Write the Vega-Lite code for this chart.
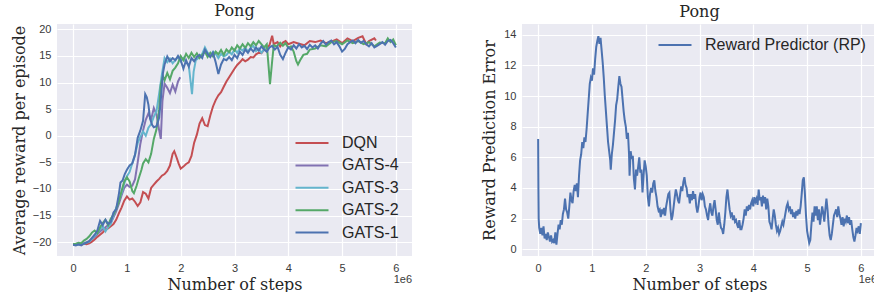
{
  "$schema": "https://vega.github.io/schema/vega-lite/v6.json",
  "padding": {"left": 11, "top": 3, "right": 0, "bottom": 0},
  "background": "white",
  "config": {
    "view": {"fill": "#EAEAF2", "stroke": null},
    "axis": {"domain": false, "ticks": false, "gridColor": "#FFFFFF", "gridWidth": 1.2, "labelFont": "Liberation Sans", "labelFontSize": 11, "labelColor": "#3a3a3a", "titleFont": "DejaVu Serif", "titleFontSize": 16, "titleFontWeight": "normal", "titleColor": "#262626", "labelPadding": 6, "labelOverlap": false},
    "title": {"font": "DejaVu Serif", "fontSize": 16, "fontWeight": "normal", "color": "#262626", "offset": 4},
    "legend": {"labelFont": "Liberation Sans", "labelFontSize": 16, "labelColor": "#262626", "symbolType": "M-1.65,0H1.65", "symbolStrokeWidth": 2, "symbolSize": 400, "padding": 0, "labelOffset": 19, "labelLimit": 400, "rowPadding": 3.4}
  },
  "spacing": 69,
  "resolve": {"scale": {"x": "independent", "y": "independent", "color": "independent"}, "legend": {"color": "independent"}},
  "datasets": {
    "left": [
      {"series":"DQN","step":0,"value":-20.4},{"series":"DQN","step":0.05,"value":-20.5},{"series":"DQN","step":0.1,"value":-20.4},{"series":"DQN","step":0.15,"value":-20.5},{"series":"DQN","step":0.2,"value":-20.3},{"series":"DQN","step":0.25,"value":-20.4},{"series":"DQN","step":0.3,"value":-20.2},{"series":"DQN","step":0.35,"value":-19.9},{"series":"DQN","step":0.4,"value":-19.5},{"series":"DQN","step":0.45,"value":-19.0},{"series":"DQN","step":0.5,"value":-18.6},{"series":"DQN","step":0.55,"value":-18.2},{"series":"DQN","step":0.6,"value":-17.6},{"series":"DQN","step":0.65,"value":-17.4},{"series":"DQN","step":0.7,"value":-17.0},{"series":"DQN","step":0.75,"value":-16.6},{"series":"DQN","step":0.8,"value":-15.8},{"series":"DQN","step":0.85,"value":-14.6},{"series":"DQN","step":0.9,"value":-13.5},{"series":"DQN","step":0.95,"value":-12.2},{"series":"DQN","step":1.0,"value":-11.4},{"series":"DQN","step":1.05,"value":-12.0},{"series":"DQN","step":1.1,"value":-11.8},{"series":"DQN","step":1.15,"value":-12.4},{"series":"DQN","step":1.2,"value":-13.2},{"series":"DQN","step":1.25,"value":-12.5},{"series":"DQN","step":1.3,"value":-10.6},{"series":"DQN","step":1.35,"value":-10.9},{"series":"DQN","step":1.4,"value":-11.8},{"series":"DQN","step":1.45,"value":-9.8},{"series":"DQN","step":1.5,"value":-9.2},{"series":"DQN","step":1.55,"value":-8.6},{"series":"DQN","step":1.6,"value":-8.1},{"series":"DQN","step":1.65,"value":-7.5},{"series":"DQN","step":1.7,"value":-7.2},{"series":"DQN","step":1.75,"value":-6.6},{"series":"DQN","step":1.8,"value":-5.6},{"series":"DQN","step":1.85,"value":-3.4},{"series":"DQN","step":1.88,"value":-2.9},{"series":"DQN","step":1.92,"value":-4.0},{"series":"DQN","step":1.96,"value":-5.2},{"series":"DQN","step":2.0,"value":-6.2},{"series":"DQN","step":2.05,"value":-5.8},{"series":"DQN","step":2.1,"value":-5.3},{"series":"DQN","step":2.15,"value":-5.0},{"series":"DQN","step":2.2,"value":-3.8},{"series":"DQN","step":2.25,"value":-1.3},{"series":"DQN","step":2.3,"value":0.2},{"series":"DQN","step":2.35,"value":2.3},{"series":"DQN","step":2.4,"value":3.3},{"series":"DQN","step":2.45,"value":2.0},{"series":"DQN","step":2.5,"value":1.8},{"series":"DQN","step":2.55,"value":3.8},{"series":"DQN","step":2.6,"value":5.5},{"series":"DQN","step":2.65,"value":6.7},{"series":"DQN","step":2.7,"value":7.6},{"series":"DQN","step":2.75,"value":8.2},{"series":"DQN","step":2.8,"value":9.2},{"series":"DQN","step":2.85,"value":10.2},{"series":"DQN","step":2.9,"value":11.0},{"series":"DQN","step":2.95,"value":11.8},{"series":"DQN","step":3.0,"value":12.6},{"series":"DQN","step":3.05,"value":13.3},{"series":"DQN","step":3.1,"value":13.8},{"series":"DQN","step":3.15,"value":14.4},{"series":"DQN","step":3.2,"value":14.0},{"series":"DQN","step":3.25,"value":14.3},{"series":"DQN","step":3.3,"value":14.8},{"series":"DQN","step":3.35,"value":14.7},{"series":"DQN","step":3.4,"value":15.3},{"series":"DQN","step":3.45,"value":15.6},{"series":"DQN","step":3.5,"value":15.5},{"series":"DQN","step":3.55,"value":16.2},{"series":"DQN","step":3.6,"value":16.5},{"series":"DQN","step":3.65,"value":17.0},{"series":"DQN","step":3.7,"value":18.8},{"series":"DQN","step":3.73,"value":17.2},{"series":"DQN","step":3.8,"value":17.6},{"series":"DQN","step":3.85,"value":16.8},{"series":"DQN","step":3.9,"value":17.5},{"series":"DQN","step":3.95,"value":17.8},{"series":"DQN","step":4.0,"value":17.2},{"series":"DQN","step":4.1,"value":17.6},{"series":"DQN","step":4.2,"value":17.3},{"series":"DQN","step":4.3,"value":17.0},{"series":"DQN","step":4.4,"value":17.8},{"series":"DQN","step":4.5,"value":17.6},{"series":"DQN","step":4.6,"value":17.9},{"series":"DQN","step":4.7,"value":17.4},{"series":"DQN","step":4.8,"value":17.7},{"series":"DQN","step":4.9,"value":18.1},{"series":"DQN","step":5.0,"value":17.4},{"series":"DQN","step":5.1,"value":18.3},{"series":"DQN","step":5.2,"value":17.8},{"series":"DQN","step":5.3,"value":18.4},{"series":"DQN","step":5.38,"value":18.7},{"series":"DQN","step":5.45,"value":17.2},{"series":"DQN","step":5.5,"value":17.8},{"series":"DQN","step":5.6,"value":18.3},{"series":"DQN","step":5.63,"value":17.9},
      {"series":"GATS-4","step":0,"value":-20.5},{"series":"GATS-4","step":0.1,"value":-20.4},{"series":"GATS-4","step":0.2,"value":-20.2},{"series":"GATS-4","step":0.3,"value":-19.8},{"series":"GATS-4","step":0.4,"value":-19.0},{"series":"GATS-4","step":0.5,"value":-18.0},{"series":"GATS-4","step":0.6,"value":-17.2},{"series":"GATS-4","step":0.7,"value":-16.4},{"series":"GATS-4","step":0.8,"value":-14.2},{"series":"GATS-4","step":0.85,"value":-12.8},{"series":"GATS-4","step":0.9,"value":-11.2},{"series":"GATS-4","step":0.95,"value":-9.8},{"series":"GATS-4","step":1.0,"value":-9.2},{"series":"GATS-4","step":1.05,"value":-9.6},{"series":"GATS-4","step":1.1,"value":-9.4},{"series":"GATS-4","step":1.15,"value":-8.2},{"series":"GATS-4","step":1.2,"value":-5.0},{"series":"GATS-4","step":1.25,"value":-1.5},{"series":"GATS-4","step":1.3,"value":1.0},{"series":"GATS-4","step":1.35,"value":3.0},{"series":"GATS-4","step":1.4,"value":4.2},{"series":"GATS-4","step":1.45,"value":3.0},{"series":"GATS-4","step":1.5,"value":5.2},{"series":"GATS-4","step":1.55,"value":4.0},{"series":"GATS-4","step":1.6,"value":1.0},{"series":"GATS-4","step":1.63,"value":-0.6},{"series":"GATS-4","step":1.66,"value":6.5},{"series":"GATS-4","step":1.7,"value":9.8},{"series":"GATS-4","step":1.75,"value":9.0},{"series":"GATS-4","step":1.8,"value":8.0},{"series":"GATS-4","step":1.85,"value":9.6},{"series":"GATS-4","step":1.9,"value":8.3},{"series":"GATS-4","step":1.95,"value":10.2},{"series":"GATS-4","step":1.99,"value":11.0},
      {"series":"GATS-3","step":0,"value":-20.5},{"series":"GATS-3","step":0.1,"value":-20.5},{"series":"GATS-3","step":0.2,"value":-20.3},{"series":"GATS-3","step":0.3,"value":-19.9},{"series":"GATS-3","step":0.4,"value":-18.8},{"series":"GATS-3","step":0.5,"value":-17.6},{"series":"GATS-3","step":0.55,"value":-17.0},{"series":"GATS-3","step":0.6,"value":-18.0},{"series":"GATS-3","step":0.65,"value":-17.2},{"series":"GATS-3","step":0.7,"value":-16.6},{"series":"GATS-3","step":0.75,"value":-15.0},{"series":"GATS-3","step":0.8,"value":-13.6},{"series":"GATS-3","step":0.85,"value":-12.2},{"series":"GATS-3","step":0.9,"value":-10.8},{"series":"GATS-3","step":0.95,"value":-9.0},{"series":"GATS-3","step":1.0,"value":-7.6},{"series":"GATS-3","step":1.05,"value":-6.8},{"series":"GATS-3","step":1.1,"value":-5.2},{"series":"GATS-3","step":1.15,"value":-3.6},{"series":"GATS-3","step":1.2,"value":-1.4},{"series":"GATS-3","step":1.25,"value":-0.2},{"series":"GATS-3","step":1.3,"value":0.8},{"series":"GATS-3","step":1.35,"value":0.0},{"series":"GATS-3","step":1.4,"value":1.5},{"series":"GATS-3","step":1.45,"value":2.2},{"series":"GATS-3","step":1.5,"value":3.6},{"series":"GATS-3","step":1.55,"value":4.6},{"series":"GATS-3","step":1.6,"value":8.0},{"series":"GATS-3","step":1.65,"value":11.5},{"series":"GATS-3","step":1.7,"value":14.6},{"series":"GATS-3","step":1.75,"value":13.8},{"series":"GATS-3","step":1.8,"value":14.5},{"series":"GATS-3","step":1.85,"value":13.6},{"series":"GATS-3","step":1.9,"value":14.2},{"series":"GATS-3","step":1.95,"value":14.8},{"series":"GATS-3","step":2.0,"value":14.0},{"series":"GATS-3","step":2.05,"value":14.6},{"series":"GATS-3","step":2.1,"value":13.8},{"series":"GATS-3","step":2.15,"value":13.2},{"series":"GATS-3","step":2.18,"value":10.5},{"series":"GATS-3","step":2.21,"value":7.8},{"series":"GATS-3","step":2.24,"value":12.0},{"series":"GATS-3","step":2.28,"value":14.2},{"series":"GATS-3","step":2.35,"value":14.8},{"series":"GATS-3","step":2.4,"value":15.4},{"series":"GATS-3","step":2.45,"value":16.6},{"series":"GATS-3","step":2.5,"value":15.6},{"series":"GATS-3","step":2.55,"value":15.0},{"series":"GATS-3","step":2.6,"value":15.8},{"series":"GATS-3","step":2.65,"value":15.4},{"series":"GATS-3","step":2.7,"value":14.6},{"series":"GATS-3","step":2.75,"value":15.4},{"series":"GATS-3","step":2.8,"value":14.9},{"series":"GATS-3","step":2.85,"value":15.2},{"series":"GATS-3","step":2.9,"value":15.8},{"series":"GATS-3","step":2.95,"value":15.3},{"series":"GATS-3","step":3.0,"value":16.2},{"series":"GATS-3","step":3.05,"value":15.6},{"series":"GATS-3","step":3.1,"value":16.4},{"series":"GATS-3","step":3.15,"value":16.0},{"series":"GATS-3","step":3.2,"value":16.6},{"series":"GATS-3","step":3.25,"value":15.8},{"series":"GATS-3","step":3.3,"value":16.5},{"series":"GATS-3","step":3.35,"value":16.9},{"series":"GATS-3","step":3.4,"value":15.9},{"series":"GATS-3","step":3.45,"value":16.4},{"series":"GATS-3","step":3.5,"value":15.6},{"series":"GATS-3","step":3.55,"value":16.2},{"series":"GATS-3","step":3.6,"value":16.6},
      {"series":"GATS-2","step":0,"value":-20.4},{"series":"GATS-2","step":0.05,"value":-20.3},{"series":"GATS-2","step":0.1,"value":-20.1},{"series":"GATS-2","step":0.15,"value":-20.2},{"series":"GATS-2","step":0.2,"value":-19.7},{"series":"GATS-2","step":0.25,"value":-19.4},{"series":"GATS-2","step":0.3,"value":-18.9},{"series":"GATS-2","step":0.35,"value":-18.2},{"series":"GATS-2","step":0.4,"value":-17.8},{"series":"GATS-2","step":0.45,"value":-18.3},{"series":"GATS-2","step":0.5,"value":-17.2},{"series":"GATS-2","step":0.55,"value":-16.4},{"series":"GATS-2","step":0.6,"value":-15.8},{"series":"GATS-2","step":0.65,"value":-16.8},{"series":"GATS-2","step":0.7,"value":-15.6},{"series":"GATS-2","step":0.75,"value":-14.8},{"series":"GATS-2","step":0.8,"value":-13.8},{"series":"GATS-2","step":0.85,"value":-12.4},{"series":"GATS-2","step":0.9,"value":-10.4},{"series":"GATS-2","step":0.95,"value":-8.6},{"series":"GATS-2","step":1.0,"value":-7.8},{"series":"GATS-2","step":1.05,"value":-8.6},{"series":"GATS-2","step":1.1,"value":-10.4},{"series":"GATS-2","step":1.13,"value":-10.8},{"series":"GATS-2","step":1.18,"value":-9.4},{"series":"GATS-2","step":1.22,"value":-8.0},{"series":"GATS-2","step":1.27,"value":-6.4},{"series":"GATS-2","step":1.3,"value":-5.2},{"series":"GATS-2","step":1.35,"value":-4.4},{"series":"GATS-2","step":1.4,"value":-5.0},{"series":"GATS-2","step":1.45,"value":-3.4},{"series":"GATS-2","step":1.5,"value":-0.6},{"series":"GATS-2","step":1.55,"value":1.2},{"series":"GATS-2","step":1.6,"value":5.0},{"series":"GATS-2","step":1.63,"value":9.6},{"series":"GATS-2","step":1.67,"value":11.2},{"series":"GATS-2","step":1.7,"value":10.4},{"series":"GATS-2","step":1.75,"value":11.8},{"series":"GATS-2","step":1.8,"value":10.6},{"series":"GATS-2","step":1.85,"value":12.2},{"series":"GATS-2","step":1.9,"value":12.8},{"series":"GATS-2","step":1.95,"value":13.6},{"series":"GATS-2","step":2.0,"value":15.0},{"series":"GATS-2","step":2.05,"value":14.2},{"series":"GATS-2","step":2.1,"value":15.4},{"series":"GATS-2","step":2.15,"value":14.6},{"series":"GATS-2","step":2.2,"value":15.6},{"series":"GATS-2","step":2.25,"value":14.8},{"series":"GATS-2","step":2.3,"value":15.5},{"series":"GATS-2","step":2.35,"value":14.6},{"series":"GATS-2","step":2.4,"value":15.2},{"series":"GATS-2","step":2.45,"value":15.8},{"series":"GATS-2","step":2.5,"value":14.8},{"series":"GATS-2","step":2.55,"value":15.6},{"series":"GATS-2","step":2.6,"value":14.9},{"series":"GATS-2","step":2.65,"value":15.8},{"series":"GATS-2","step":2.7,"value":15.3},{"series":"GATS-2","step":2.75,"value":16.1},{"series":"GATS-2","step":2.8,"value":15.2},{"series":"GATS-2","step":2.85,"value":16.2},{"series":"GATS-2","step":2.9,"value":15.7},{"series":"GATS-2","step":2.95,"value":16.6},{"series":"GATS-2","step":3.0,"value":16.0},{"series":"GATS-2","step":3.05,"value":17.0},{"series":"GATS-2","step":3.1,"value":16.4},{"series":"GATS-2","step":3.15,"value":17.2},{"series":"GATS-2","step":3.2,"value":16.5},{"series":"GATS-2","step":3.25,"value":17.4},{"series":"GATS-2","step":3.3,"value":16.8},{"series":"GATS-2","step":3.35,"value":17.6},{"series":"GATS-2","step":3.4,"value":17.0},{"series":"GATS-2","step":3.45,"value":17.8},{"series":"GATS-2","step":3.5,"value":17.2},{"series":"GATS-2","step":3.55,"value":16.6},{"series":"GATS-2","step":3.6,"value":17.2},{"series":"GATS-2","step":3.63,"value":13.5},{"series":"GATS-2","step":3.66,"value":9.7},{"series":"GATS-2","step":3.7,"value":14.0},{"series":"GATS-2","step":3.73,"value":17.0},{"series":"GATS-2","step":3.78,"value":16.8},{"series":"GATS-2","step":3.85,"value":17.5},{"series":"GATS-2","step":3.9,"value":16.9},{"series":"GATS-2","step":3.95,"value":17.4},{"series":"GATS-2","step":4.0,"value":16.5},{"series":"GATS-2","step":4.05,"value":16.8},{"series":"GATS-2","step":4.1,"value":15.8},{"series":"GATS-2","step":4.15,"value":14.0},{"series":"GATS-2","step":4.18,"value":13.4},{"series":"GATS-2","step":4.22,"value":14.2},{"series":"GATS-2","step":4.28,"value":15.2},{"series":"GATS-2","step":4.35,"value":15.4},{"series":"GATS-2","step":4.4,"value":16.2},{"series":"GATS-2","step":4.5,"value":16.4},{"series":"GATS-2","step":4.6,"value":17.0},{"series":"GATS-2","step":4.7,"value":16.8},{"series":"GATS-2","step":4.8,"value":17.6},{"series":"GATS-2","step":4.9,"value":17.8},{"series":"GATS-2","step":5.0,"value":17.2},{"series":"GATS-2","step":5.1,"value":17.9},{"series":"GATS-2","step":5.2,"value":17.4},{"series":"GATS-2","step":5.3,"value":17.8},{"series":"GATS-2","step":5.4,"value":17.2},{"series":"GATS-2","step":5.5,"value":17.6},{"series":"GATS-2","step":5.6,"value":16.8},{"series":"GATS-2","step":5.7,"value":17.5},{"series":"GATS-2","step":5.8,"value":17.4},{"series":"GATS-2","step":5.85,"value":18.3},{"series":"GATS-2","step":5.9,"value":17.6},{"series":"GATS-2","step":5.95,"value":18.1},{"series":"GATS-2","step":6.0,"value":17.0},
      {"series":"GATS-1","step":0,"value":-20.5},{"series":"GATS-1","step":0.05,"value":-20.6},{"series":"GATS-1","step":0.1,"value":-20.4},{"series":"GATS-1","step":0.15,"value":-20.6},{"series":"GATS-1","step":0.2,"value":-20.3},{"series":"GATS-1","step":0.25,"value":-20.1},{"series":"GATS-1","step":0.3,"value":-19.8},{"series":"GATS-1","step":0.35,"value":-19.2},{"series":"GATS-1","step":0.4,"value":-18.6},{"series":"GATS-1","step":0.45,"value":-17.8},{"series":"GATS-1","step":0.5,"value":-16.0},{"series":"GATS-1","step":0.55,"value":-16.8},{"series":"GATS-1","step":0.6,"value":-15.8},{"series":"GATS-1","step":0.65,"value":-16.6},{"series":"GATS-1","step":0.7,"value":-16.2},{"series":"GATS-1","step":0.75,"value":-14.4},{"series":"GATS-1","step":0.8,"value":-13.8},{"series":"GATS-1","step":0.85,"value":-11.0},{"series":"GATS-1","step":0.88,"value":-8.8},{"series":"GATS-1","step":0.92,"value":-8.4},{"series":"GATS-1","step":0.96,"value":-7.2},{"series":"GATS-1","step":1.0,"value":-6.4},{"series":"GATS-1","step":1.05,"value":-5.6},{"series":"GATS-1","step":1.1,"value":-5.2},{"series":"GATS-1","step":1.15,"value":-3.6},{"series":"GATS-1","step":1.2,"value":-0.4},{"series":"GATS-1","step":1.25,"value":1.0},{"series":"GATS-1","step":1.3,"value":2.8},{"series":"GATS-1","step":1.34,"value":7.8},{"series":"GATS-1","step":1.37,"value":7.2},{"series":"GATS-1","step":1.4,"value":5.8},{"series":"GATS-1","step":1.43,"value":3.2},{"series":"GATS-1","step":1.47,"value":2.0},{"series":"GATS-1","step":1.5,"value":1.6},{"series":"GATS-1","step":1.55,"value":1.8},{"series":"GATS-1","step":1.6,"value":3.4},{"series":"GATS-1","step":1.63,"value":6.8},{"series":"GATS-1","step":1.67,"value":11.8},{"series":"GATS-1","step":1.7,"value":13.4},{"series":"GATS-1","step":1.75,"value":14.9},{"series":"GATS-1","step":1.8,"value":14.0},{"series":"GATS-1","step":1.85,"value":14.6},{"series":"GATS-1","step":1.9,"value":14.2},{"series":"GATS-1","step":1.95,"value":15.0},{"series":"GATS-1","step":2.0,"value":14.2},{"series":"GATS-1","step":2.05,"value":12.6},{"series":"GATS-1","step":2.1,"value":14.2},{"series":"GATS-1","step":2.15,"value":13.0},{"series":"GATS-1","step":2.2,"value":14.6},{"series":"GATS-1","step":2.25,"value":14.0},{"series":"GATS-1","step":2.3,"value":14.8},{"series":"GATS-1","step":2.35,"value":15.2},{"series":"GATS-1","step":2.4,"value":14.6},{"series":"GATS-1","step":2.45,"value":16.2},{"series":"GATS-1","step":2.5,"value":15.4},{"series":"GATS-1","step":2.55,"value":14.8},{"series":"GATS-1","step":2.6,"value":15.6},{"series":"GATS-1","step":2.65,"value":13.8},{"series":"GATS-1","step":2.7,"value":11.6},{"series":"GATS-1","step":2.75,"value":13.4},{"series":"GATS-1","step":2.8,"value":14.4},{"series":"GATS-1","step":2.85,"value":14.2},{"series":"GATS-1","step":2.9,"value":14.8},{"series":"GATS-1","step":2.95,"value":14.2},{"series":"GATS-1","step":3.0,"value":15.2},{"series":"GATS-1","step":3.05,"value":14.6},{"series":"GATS-1","step":3.1,"value":15.8},{"series":"GATS-1","step":3.15,"value":15.2},{"series":"GATS-1","step":3.2,"value":16.2},{"series":"GATS-1","step":3.25,"value":15.6},{"series":"GATS-1","step":3.3,"value":16.4},{"series":"GATS-1","step":3.35,"value":15.8},{"series":"GATS-1","step":3.4,"value":16.6},{"series":"GATS-1","step":3.45,"value":16.0},{"series":"GATS-1","step":3.5,"value":16.8},{"series":"GATS-1","step":3.55,"value":16.2},{"series":"GATS-1","step":3.6,"value":15.8},{"series":"GATS-1","step":3.65,"value":16.6},{"series":"GATS-1","step":3.7,"value":16.9},{"series":"GATS-1","step":3.75,"value":16.2},{"series":"GATS-1","step":3.8,"value":16.7},{"series":"GATS-1","step":3.85,"value":15.2},{"series":"GATS-1","step":3.9,"value":14.4},{"series":"GATS-1","step":3.95,"value":15.6},{"series":"GATS-1","step":4.0,"value":16.6},{"series":"GATS-1","step":4.05,"value":16.2},{"series":"GATS-1","step":4.1,"value":17.0},{"series":"GATS-1","step":4.15,"value":16.4},{"series":"GATS-1","step":4.2,"value":17.2},{"series":"GATS-1","step":4.25,"value":16.6},{"series":"GATS-1","step":4.3,"value":16.9},{"series":"GATS-1","step":4.35,"value":16.3},{"series":"GATS-1","step":4.4,"value":17.1},{"series":"GATS-1","step":4.45,"value":16.6},{"series":"GATS-1","step":4.5,"value":17.0},{"series":"GATS-1","step":4.55,"value":16.4},{"series":"GATS-1","step":4.6,"value":17.3},{"series":"GATS-1","step":4.65,"value":17.8},{"series":"GATS-1","step":4.7,"value":17.1},{"series":"GATS-1","step":4.75,"value":17.6},{"series":"GATS-1","step":4.8,"value":17.9},{"series":"GATS-1","step":4.85,"value":17.2},{"series":"GATS-1","step":4.9,"value":17.6},{"series":"GATS-1","step":4.95,"value":16.8},{"series":"GATS-1","step":5.0,"value":15.8},{"series":"GATS-1","step":5.05,"value":16.3},{"series":"GATS-1","step":5.1,"value":17.2},{"series":"GATS-1","step":5.15,"value":17.6},{"series":"GATS-1","step":5.2,"value":17.9},{"series":"GATS-1","step":5.25,"value":17.4},{"series":"GATS-1","step":5.3,"value":18.0},{"series":"GATS-1","step":5.35,"value":17.5},{"series":"GATS-1","step":5.4,"value":17.8},{"series":"GATS-1","step":5.45,"value":17.2},{"series":"GATS-1","step":5.5,"value":16.8},{"series":"GATS-1","step":5.55,"value":17.4},{"series":"GATS-1","step":5.6,"value":16.6},{"series":"GATS-1","step":5.65,"value":16.9},{"series":"GATS-1","step":5.7,"value":17.2},{"series":"GATS-1","step":5.75,"value":17.6},{"series":"GATS-1","step":5.8,"value":17.1},{"series":"GATS-1","step":5.85,"value":17.8},{"series":"GATS-1","step":5.9,"value":18.0},{"series":"GATS-1","step":5.95,"value":17.4},{"series":"GATS-1","step":6.0,"value":16.6}
    ],
    "right": [
      {"series":"Reward Predictor (RP)","step":0,"value":7.2},{"series":"Reward Predictor (RP)","step":0.005,"value":4.0},{"series":"Reward Predictor (RP)","step":0.01,"value":2.0},{"series":"Reward Predictor (RP)","step":0.02,"value":1.4},{"series":"Reward Predictor (RP)","step":0.04,"value":1.0},{"series":"Reward Predictor (RP)","step":0.06,"value":1.4},{"series":"Reward Predictor (RP)","step":0.08,"value":0.9},{"series":"Reward Predictor (RP)","step":0.1,"value":1.5},{"series":"Reward Predictor (RP)","step":0.12,"value":0.7},{"series":"Reward Predictor (RP)","step":0.14,"value":1.0},{"series":"Reward Predictor (RP)","step":0.16,"value":0.6},{"series":"Reward Predictor (RP)","step":0.18,"value":1.1},{"series":"Reward Predictor (RP)","step":0.2,"value":0.8},{"series":"Reward Predictor (RP)","step":0.22,"value":0.5},{"series":"Reward Predictor (RP)","step":0.24,"value":0.9},{"series":"Reward Predictor (RP)","step":0.26,"value":0.5},{"series":"Reward Predictor (RP)","step":0.28,"value":0.6},{"series":"Reward Predictor (RP)","step":0.3,"value":0.4},{"series":"Reward Predictor (RP)","step":0.32,"value":1.1},{"series":"Reward Predictor (RP)","step":0.34,"value":0.3},{"series":"Reward Predictor (RP)","step":0.36,"value":1.0},{"series":"Reward Predictor (RP)","step":0.38,"value":1.6},{"series":"Reward Predictor (RP)","step":0.4,"value":1.3},{"series":"Reward Predictor (RP)","step":0.42,"value":1.9},{"series":"Reward Predictor (RP)","step":0.44,"value":1.6},{"series":"Reward Predictor (RP)","step":0.46,"value":2.3},{"series":"Reward Predictor (RP)","step":0.48,"value":2.6},{"series":"Reward Predictor (RP)","step":0.5,"value":3.3},{"series":"Reward Predictor (RP)","step":0.52,"value":2.6},{"series":"Reward Predictor (RP)","step":0.54,"value":2.4},{"series":"Reward Predictor (RP)","step":0.56,"value":2.0},{"series":"Reward Predictor (RP)","step":0.58,"value":2.8},{"series":"Reward Predictor (RP)","step":0.6,"value":3.7},{"series":"Reward Predictor (RP)","step":0.62,"value":3.2},{"series":"Reward Predictor (RP)","step":0.64,"value":3.0},{"series":"Reward Predictor (RP)","step":0.66,"value":3.8},{"series":"Reward Predictor (RP)","step":0.68,"value":4.2},{"series":"Reward Predictor (RP)","step":0.7,"value":3.8},{"series":"Reward Predictor (RP)","step":0.72,"value":4.3},{"series":"Reward Predictor (RP)","step":0.74,"value":3.4},{"series":"Reward Predictor (RP)","step":0.76,"value":4.8},{"series":"Reward Predictor (RP)","step":0.78,"value":5.8},{"series":"Reward Predictor (RP)","step":0.8,"value":6.2},{"series":"Reward Predictor (RP)","step":0.82,"value":7.0},{"series":"Reward Predictor (RP)","step":0.84,"value":6.6},{"series":"Reward Predictor (RP)","step":0.86,"value":7.3},{"series":"Reward Predictor (RP)","step":0.88,"value":7.0},{"series":"Reward Predictor (RP)","step":0.9,"value":7.8},{"series":"Reward Predictor (RP)","step":0.92,"value":8.8},{"series":"Reward Predictor (RP)","step":0.94,"value":9.8},{"series":"Reward Predictor (RP)","step":0.96,"value":10.8},{"series":"Reward Predictor (RP)","step":0.98,"value":11.2},{"series":"Reward Predictor (RP)","step":1.0,"value":11.0},{"series":"Reward Predictor (RP)","step":1.02,"value":11.8},{"series":"Reward Predictor (RP)","step":1.04,"value":11.4},{"series":"Reward Predictor (RP)","step":1.06,"value":12.4},{"series":"Reward Predictor (RP)","step":1.08,"value":13.2},{"series":"Reward Predictor (RP)","step":1.1,"value":13.6},{"series":"Reward Predictor (RP)","step":1.12,"value":13.9},{"series":"Reward Predictor (RP)","step":1.14,"value":13.4},{"series":"Reward Predictor (RP)","step":1.16,"value":13.8},{"series":"Reward Predictor (RP)","step":1.18,"value":13.0},{"series":"Reward Predictor (RP)","step":1.2,"value":12.2},{"series":"Reward Predictor (RP)","step":1.22,"value":11.2},{"series":"Reward Predictor (RP)","step":1.24,"value":10.0},{"series":"Reward Predictor (RP)","step":1.26,"value":9.0},{"series":"Reward Predictor (RP)","step":1.28,"value":8.0},{"series":"Reward Predictor (RP)","step":1.3,"value":7.0},{"series":"Reward Predictor (RP)","step":1.32,"value":6.4},{"series":"Reward Predictor (RP)","step":1.34,"value":5.8},{"series":"Reward Predictor (RP)","step":1.35,"value":5.2},{"series":"Reward Predictor (RP)","step":1.37,"value":6.2},{"series":"Reward Predictor (RP)","step":1.39,"value":6.8},{"series":"Reward Predictor (RP)","step":1.41,"value":7.6},{"series":"Reward Predictor (RP)","step":1.43,"value":8.4},{"series":"Reward Predictor (RP)","step":1.45,"value":9.4},{"series":"Reward Predictor (RP)","step":1.47,"value":9.8},{"series":"Reward Predictor (RP)","step":1.49,"value":10.6},{"series":"Reward Predictor (RP)","step":1.51,"value":11.3},{"series":"Reward Predictor (RP)","step":1.53,"value":10.8},{"series":"Reward Predictor (RP)","step":1.55,"value":10.6},{"series":"Reward Predictor (RP)","step":1.57,"value":9.8},{"series":"Reward Predictor (RP)","step":1.59,"value":9.0},{"series":"Reward Predictor (RP)","step":1.61,"value":8.4},{"series":"Reward Predictor (RP)","step":1.63,"value":8.0},{"series":"Reward Predictor (RP)","step":1.65,"value":7.2},{"series":"Reward Predictor (RP)","step":1.67,"value":7.6},{"series":"Reward Predictor (RP)","step":1.69,"value":6.2},{"series":"Reward Predictor (RP)","step":1.7,"value":4.8},{"series":"Reward Predictor (RP)","step":1.72,"value":6.4},{"series":"Reward Predictor (RP)","step":1.74,"value":5.9},{"series":"Reward Predictor (RP)","step":1.76,"value":6.1},{"series":"Reward Predictor (RP)","step":1.78,"value":4.6},{"series":"Reward Predictor (RP)","step":1.8,"value":3.9},{"series":"Reward Predictor (RP)","step":1.82,"value":5.2},{"series":"Reward Predictor (RP)","step":1.84,"value":4.8},{"series":"Reward Predictor (RP)","step":1.86,"value":5.4},{"series":"Reward Predictor (RP)","step":1.88,"value":6.0},{"series":"Reward Predictor (RP)","step":1.9,"value":5.0},{"series":"Reward Predictor (RP)","step":1.92,"value":5.2},{"series":"Reward Predictor (RP)","step":1.94,"value":3.7},{"series":"Reward Predictor (RP)","step":1.96,"value":4.8},{"series":"Reward Predictor (RP)","step":1.98,"value":5.8},{"series":"Reward Predictor (RP)","step":2.0,"value":5.4},{"series":"Reward Predictor (RP)","step":2.02,"value":4.8},{"series":"Reward Predictor (RP)","step":2.04,"value":3.4},{"series":"Reward Predictor (RP)","step":2.06,"value":2.8},{"series":"Reward Predictor (RP)","step":2.08,"value":3.6},{"series":"Reward Predictor (RP)","step":2.1,"value":4.0},{"series":"Reward Predictor (RP)","step":2.12,"value":3.7},{"series":"Reward Predictor (RP)","step":2.14,"value":4.3},{"series":"Reward Predictor (RP)","step":2.16,"value":4.5},{"series":"Reward Predictor (RP)","step":2.18,"value":3.8},{"series":"Reward Predictor (RP)","step":2.2,"value":3.4},{"series":"Reward Predictor (RP)","step":2.22,"value":2.8},{"series":"Reward Predictor (RP)","step":2.24,"value":2.5},{"series":"Reward Predictor (RP)","step":2.26,"value":2.6},{"series":"Reward Predictor (RP)","step":2.28,"value":2.1},{"series":"Reward Predictor (RP)","step":2.3,"value":2.6},{"series":"Reward Predictor (RP)","step":2.32,"value":2.4},{"series":"Reward Predictor (RP)","step":2.34,"value":2.7},{"series":"Reward Predictor (RP)","step":2.36,"value":2.2},{"series":"Reward Predictor (RP)","step":2.38,"value":2.8},{"series":"Reward Predictor (RP)","step":2.4,"value":3.2},{"series":"Reward Predictor (RP)","step":2.42,"value":3.6},{"series":"Reward Predictor (RP)","step":2.44,"value":3.7},{"series":"Reward Predictor (RP)","step":2.46,"value":2.6},{"series":"Reward Predictor (RP)","step":2.48,"value":1.9},{"series":"Reward Predictor (RP)","step":2.5,"value":2.2},{"series":"Reward Predictor (RP)","step":2.52,"value":2.8},{"series":"Reward Predictor (RP)","step":2.54,"value":3.4},{"series":"Reward Predictor (RP)","step":2.56,"value":3.9},{"series":"Reward Predictor (RP)","step":2.58,"value":3.6},{"series":"Reward Predictor (RP)","step":2.6,"value":3.2},{"series":"Reward Predictor (RP)","step":2.62,"value":3.0},{"series":"Reward Predictor (RP)","step":2.64,"value":3.6},{"series":"Reward Predictor (RP)","step":2.66,"value":4.1},{"series":"Reward Predictor (RP)","step":2.68,"value":3.8},{"series":"Reward Predictor (RP)","step":2.7,"value":4.4},{"series":"Reward Predictor (RP)","step":2.72,"value":4.7},{"series":"Reward Predictor (RP)","step":2.74,"value":4.2},{"series":"Reward Predictor (RP)","step":2.76,"value":4.0},{"series":"Reward Predictor (RP)","step":2.78,"value":3.4},{"series":"Reward Predictor (RP)","step":2.8,"value":3.6},{"series":"Reward Predictor (RP)","step":2.82,"value":3.0},{"series":"Reward Predictor (RP)","step":2.84,"value":3.6},{"series":"Reward Predictor (RP)","step":2.86,"value":3.2},{"series":"Reward Predictor (RP)","step":2.88,"value":3.8},{"series":"Reward Predictor (RP)","step":2.9,"value":3.3},{"series":"Reward Predictor (RP)","step":2.92,"value":3.6},{"series":"Reward Predictor (RP)","step":2.94,"value":2.8},{"series":"Reward Predictor (RP)","step":2.96,"value":2.4},{"series":"Reward Predictor (RP)","step":2.98,"value":2.8},{"series":"Reward Predictor (RP)","step":3.0,"value":3.4},{"series":"Reward Predictor (RP)","step":3.02,"value":3.7},{"series":"Reward Predictor (RP)","step":3.04,"value":3.2},{"series":"Reward Predictor (RP)","step":3.06,"value":3.6},{"series":"Reward Predictor (RP)","step":3.08,"value":3.4},{"series":"Reward Predictor (RP)","step":3.1,"value":2.8},{"series":"Reward Predictor (RP)","step":3.12,"value":2.6},{"series":"Reward Predictor (RP)","step":3.14,"value":2.2},{"series":"Reward Predictor (RP)","step":3.16,"value":1.9},{"series":"Reward Predictor (RP)","step":3.18,"value":2.6},{"series":"Reward Predictor (RP)","step":3.2,"value":3.0},{"series":"Reward Predictor (RP)","step":3.22,"value":2.4},{"series":"Reward Predictor (RP)","step":3.24,"value":2.2},{"series":"Reward Predictor (RP)","step":3.26,"value":2.8},{"series":"Reward Predictor (RP)","step":3.28,"value":3.2},{"series":"Reward Predictor (RP)","step":3.3,"value":2.6},{"series":"Reward Predictor (RP)","step":3.32,"value":1.9},{"series":"Reward Predictor (RP)","step":3.34,"value":1.6},{"series":"Reward Predictor (RP)","step":3.36,"value":2.4},{"series":"Reward Predictor (RP)","step":3.38,"value":1.8},{"series":"Reward Predictor (RP)","step":3.4,"value":1.4},{"series":"Reward Predictor (RP)","step":3.42,"value":1.3},{"series":"Reward Predictor (RP)","step":3.44,"value":1.0},{"series":"Reward Predictor (RP)","step":3.46,"value":1.6},{"series":"Reward Predictor (RP)","step":3.48,"value":2.4},{"series":"Reward Predictor (RP)","step":3.5,"value":3.4},{"series":"Reward Predictor (RP)","step":3.52,"value":3.9},{"series":"Reward Predictor (RP)","step":3.54,"value":3.2},{"series":"Reward Predictor (RP)","step":3.56,"value":2.6},{"series":"Reward Predictor (RP)","step":3.58,"value":2.2},{"series":"Reward Predictor (RP)","step":3.6,"value":2.4},{"series":"Reward Predictor (RP)","step":3.62,"value":1.9},{"series":"Reward Predictor (RP)","step":3.64,"value":2.2},{"series":"Reward Predictor (RP)","step":3.66,"value":1.8},{"series":"Reward Predictor (RP)","step":3.68,"value":1.9},{"series":"Reward Predictor (RP)","step":3.7,"value":1.6},{"series":"Reward Predictor (RP)","step":3.72,"value":1.4},{"series":"Reward Predictor (RP)","step":3.74,"value":1.9},{"series":"Reward Predictor (RP)","step":3.76,"value":1.3},{"series":"Reward Predictor (RP)","step":3.78,"value":1.3},{"series":"Reward Predictor (RP)","step":3.8,"value":1.6},{"series":"Reward Predictor (RP)","step":3.82,"value":2.0},{"series":"Reward Predictor (RP)","step":3.84,"value":2.6},{"series":"Reward Predictor (RP)","step":3.86,"value":2.2},{"series":"Reward Predictor (RP)","step":3.88,"value":2.8},{"series":"Reward Predictor (RP)","step":3.9,"value":2.5},{"series":"Reward Predictor (RP)","step":3.92,"value":2.9},{"series":"Reward Predictor (RP)","step":3.94,"value":2.6},{"series":"Reward Predictor (RP)","step":3.96,"value":3.0},{"series":"Reward Predictor (RP)","step":3.98,"value":3.2},{"series":"Reward Predictor (RP)","step":4.0,"value":2.8},{"series":"Reward Predictor (RP)","step":4.02,"value":3.4},{"series":"Reward Predictor (RP)","step":4.04,"value":3.1},{"series":"Reward Predictor (RP)","step":4.06,"value":3.3},{"series":"Reward Predictor (RP)","step":4.08,"value":2.9},{"series":"Reward Predictor (RP)","step":4.1,"value":3.9},{"series":"Reward Predictor (RP)","step":4.12,"value":3.2},{"series":"Reward Predictor (RP)","step":4.14,"value":3.4},{"series":"Reward Predictor (RP)","step":4.16,"value":2.8},{"series":"Reward Predictor (RP)","step":4.18,"value":3.5},{"series":"Reward Predictor (RP)","step":4.2,"value":3.0},{"series":"Reward Predictor (RP)","step":4.22,"value":3.4},{"series":"Reward Predictor (RP)","step":4.24,"value":2.6},{"series":"Reward Predictor (RP)","step":4.26,"value":3.3},{"series":"Reward Predictor (RP)","step":4.28,"value":2.8},{"series":"Reward Predictor (RP)","step":4.3,"value":1.8},{"series":"Reward Predictor (RP)","step":4.32,"value":1.6},{"series":"Reward Predictor (RP)","step":4.34,"value":1.3},{"series":"Reward Predictor (RP)","step":4.36,"value":2.0},{"series":"Reward Predictor (RP)","step":4.38,"value":2.6},{"series":"Reward Predictor (RP)","step":4.4,"value":2.2},{"series":"Reward Predictor (RP)","step":4.42,"value":1.6},{"series":"Reward Predictor (RP)","step":4.44,"value":1.2},{"series":"Reward Predictor (RP)","step":4.46,"value":1.4},{"series":"Reward Predictor (RP)","step":4.48,"value":1.0},{"series":"Reward Predictor (RP)","step":4.5,"value":1.2},{"series":"Reward Predictor (RP)","step":4.52,"value":1.5},{"series":"Reward Predictor (RP)","step":4.54,"value":1.8},{"series":"Reward Predictor (RP)","step":4.56,"value":1.6},{"series":"Reward Predictor (RP)","step":4.58,"value":2.0},{"series":"Reward Predictor (RP)","step":4.6,"value":2.4},{"series":"Reward Predictor (RP)","step":4.62,"value":2.8},{"series":"Reward Predictor (RP)","step":4.64,"value":3.0},{"series":"Reward Predictor (RP)","step":4.66,"value":2.6},{"series":"Reward Predictor (RP)","step":4.68,"value":2.8},{"series":"Reward Predictor (RP)","step":4.7,"value":2.3},{"series":"Reward Predictor (RP)","step":4.72,"value":2.6},{"series":"Reward Predictor (RP)","step":4.74,"value":2.1},{"series":"Reward Predictor (RP)","step":4.76,"value":2.4},{"series":"Reward Predictor (RP)","step":4.78,"value":2.0},{"series":"Reward Predictor (RP)","step":4.8,"value":2.5},{"series":"Reward Predictor (RP)","step":4.82,"value":2.2},{"series":"Reward Predictor (RP)","step":4.84,"value":2.6},{"series":"Reward Predictor (RP)","step":4.86,"value":2.3},{"series":"Reward Predictor (RP)","step":4.88,"value":2.8},{"series":"Reward Predictor (RP)","step":4.9,"value":3.6},{"series":"Reward Predictor (RP)","step":4.92,"value":4.5},{"series":"Reward Predictor (RP)","step":4.94,"value":4.7},{"series":"Reward Predictor (RP)","step":4.96,"value":3.6},{"series":"Reward Predictor (RP)","step":4.98,"value":2.2},{"series":"Reward Predictor (RP)","step":5.0,"value":1.2},{"series":"Reward Predictor (RP)","step":5.02,"value":0.8},{"series":"Reward Predictor (RP)","step":5.04,"value":0.4},{"series":"Reward Predictor (RP)","step":5.06,"value":0.6},{"series":"Reward Predictor (RP)","step":5.08,"value":1.6},{"series":"Reward Predictor (RP)","step":5.1,"value":2.4},{"series":"Reward Predictor (RP)","step":5.12,"value":1.8},{"series":"Reward Predictor (RP)","step":5.14,"value":2.8},{"series":"Reward Predictor (RP)","step":5.16,"value":2.2},{"series":"Reward Predictor (RP)","step":5.18,"value":2.8},{"series":"Reward Predictor (RP)","step":5.2,"value":1.9},{"series":"Reward Predictor (RP)","step":5.22,"value":2.6},{"series":"Reward Predictor (RP)","step":5.24,"value":1.6},{"series":"Reward Predictor (RP)","step":5.26,"value":2.2},{"series":"Reward Predictor (RP)","step":5.28,"value":2.8},{"series":"Reward Predictor (RP)","step":5.3,"value":2.4},{"series":"Reward Predictor (RP)","step":5.32,"value":1.8},{"series":"Reward Predictor (RP)","step":5.34,"value":2.6},{"series":"Reward Predictor (RP)","step":5.36,"value":3.3},{"series":"Reward Predictor (RP)","step":5.38,"value":2.6},{"series":"Reward Predictor (RP)","step":5.4,"value":1.6},{"series":"Reward Predictor (RP)","step":5.42,"value":0.9},{"series":"Reward Predictor (RP)","step":5.44,"value":0.6},{"series":"Reward Predictor (RP)","step":5.46,"value":1.0},{"series":"Reward Predictor (RP)","step":5.48,"value":1.6},{"series":"Reward Predictor (RP)","step":5.5,"value":2.2},{"series":"Reward Predictor (RP)","step":5.52,"value":2.4},{"series":"Reward Predictor (RP)","step":5.54,"value":2.6},{"series":"Reward Predictor (RP)","step":5.56,"value":2.1},{"series":"Reward Predictor (RP)","step":5.58,"value":2.8},{"series":"Reward Predictor (RP)","step":5.6,"value":2.3},{"series":"Reward Predictor (RP)","step":5.62,"value":2.0},{"series":"Reward Predictor (RP)","step":5.64,"value":1.6},{"series":"Reward Predictor (RP)","step":5.66,"value":2.1},{"series":"Reward Predictor (RP)","step":5.68,"value":1.5},{"series":"Reward Predictor (RP)","step":5.7,"value":2.0},{"series":"Reward Predictor (RP)","step":5.72,"value":1.8},{"series":"Reward Predictor (RP)","step":5.74,"value":2.2},{"series":"Reward Predictor (RP)","step":5.76,"value":1.7},{"series":"Reward Predictor (RP)","step":5.78,"value":2.1},{"series":"Reward Predictor (RP)","step":5.8,"value":1.6},{"series":"Reward Predictor (RP)","step":5.82,"value":1.9},{"series":"Reward Predictor (RP)","step":5.84,"value":1.3},{"series":"Reward Predictor (RP)","step":5.86,"value":0.8},{"series":"Reward Predictor (RP)","step":5.88,"value":0.5},{"series":"Reward Predictor (RP)","step":5.9,"value":0.9},{"series":"Reward Predictor (RP)","step":5.92,"value":1.4},{"series":"Reward Predictor (RP)","step":5.94,"value":1.2},{"series":"Reward Predictor (RP)","step":5.96,"value":1.5},{"series":"Reward Predictor (RP)","step":5.98,"value":1.0},{"series":"Reward Predictor (RP)","step":6.0,"value":1.7}
    ],
    "offsetLabel": [{"label": "1e6"}]
  },
  "hconcat": [
    {
      "width": 355,
      "height": 232,
      "title": "Pong",
      "layer": [
        {
          "data": {"name": "left"},
          "mark": {"type": "line", "strokeWidth": 2},
          "encoding": {
            "x": {"field": "step", "type": "quantitative", "scale": {"domain": [-0.3, 6.3], "nice": false, "zero": false}, "axis": {"values": [0, 1, 2, 3, 4, 5, 6], "format": "d", "title": "Number of steps", "titlePadding": 3, "labelOverlap": false}},
            "y": {"field": "value", "type": "quantitative", "scale": {"domain": [-22.6, 21.0], "nice": false, "zero": false}, "axis": {"values": [-20, -15, -10, -5, 0, 5, 10, 15, 20], "format": "d", "tickCount": 12, "title": "Average reward per episode", "titlePadding": 5, "labelOverlap": false}},
            "color": {"field": "series", "type": "nominal", "scale": {"domain": ["DQN", "GATS-4", "GATS-3", "GATS-2", "GATS-1"], "range": ["#C44E52", "#8172B2", "#64B5CD", "#55A868", "#4C72B0"]}, "legend": {"title": null, "orient": "none", "legendX": 244, "legendY": 108}}
          }
        },
        {
          "data": {"name": "offsetLabel"},
          "mark": {"type": "text", "align": "right", "baseline": "middle", "dy": 24, "font": "Liberation Sans", "fontSize": 11, "color": "#3a3a3a"},
          "encoding": {
            "x": {"datum": 6.3},
            "y": {"datum": -22.6},
            "text": {"field": "label", "type": "nominal"}
          }
        }
      ]
    },
    {
      "width": 355,
      "height": 232,
      "title": "Pong",
      "layer": [
        {
          "data": {"name": "right"},
          "mark": {"type": "line", "strokeWidth": 2},
          "encoding": {
            "x": {"field": "step", "type": "quantitative", "scale": {"domain": [-0.3, 6.3], "nice": false, "zero": false}, "axis": {"values": [0, 1, 2, 3, 4, 5, 6], "format": "d", "title": "Number of steps", "titlePadding": 3, "labelOverlap": false}},
            "y": {"field": "value", "type": "quantitative", "scale": {"domain": [-0.44, 14.7], "nice": false, "zero": false}, "axis": {"values": [0, 2, 4, 6, 8, 10, 12, 14], "format": "d", "tickCount": 12, "title": "Reward Prediction Error", "titlePadding": 6, "labelOverlap": false}},
            "color": {"field": "series", "type": "nominal", "scale": {"domain": ["Reward Predictor (RP)"], "range": ["#4C72B0"]}, "legend": {"title": null, "orient": "none", "legendX": 142, "legendY": 10}}
          }
        },
        {
          "data": {"name": "offsetLabel"},
          "mark": {"type": "text", "align": "right", "baseline": "middle", "dy": 24, "font": "Liberation Sans", "fontSize": 11, "color": "#3a3a3a"},
          "encoding": {
            "x": {"datum": 6.3},
            "y": {"datum": -0.44},
            "text": {"field": "label", "type": "nominal"}
          }
        }
      ]
    }
  ]
}
